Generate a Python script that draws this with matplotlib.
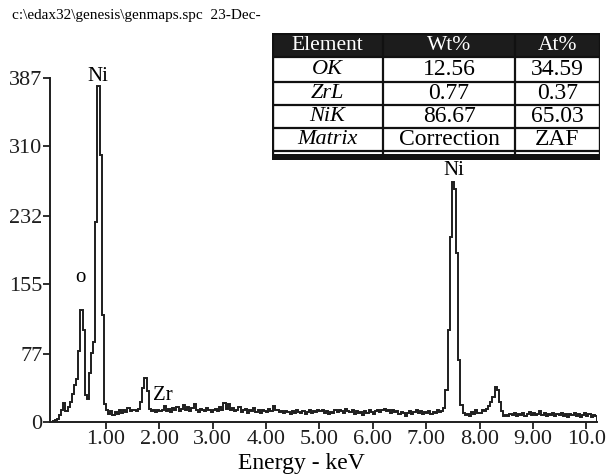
#EDS spectrum (Ni / O / Zr) with quantification table

import numpy as np
import matplotlib.pyplot as plt
from matplotlib.patches import Rectangle

plt.rcParams['font.family'] = ['Liberation Serif', 'DejaVu Serif']

# channel width 0.04 keV, first channel starts at 0.00 keV
ch_width = 0.04
counts = [
    1, 2, 3, 8, 14, 21, 12, 17, 22, 31,               # 0.00 - 0.36
    42, 48, 80, 126, 104, 30, 26, 55, 78, 90,         # 0.40 - 0.76
    225, 378, 300, 120, 20, 13, 9, 12, 8, 11,         # 0.80 - 1.16
    9, 13, 10, 14, 11, 16, 12, 13, 14, 12,            # 1.20 - 1.56
    15, 22, 38, 50, 35, 15, 12, 13, 11, 14,           # 1.60 - 1.96
    12, 13, 18, 12, 15, 11, 16, 14, 17, 12,           # 2.00 - 2.36
    15, 19, 13, 17, 12, 16, 20, 14, 11, 15,           # 2.40 - 2.76
    13, 12, 16, 14, 11, 13, 15, 12, 17, 14,           # 2.80 - 3.16
    21, 15, 20, 13, 16, 12, 14, 17, 11, 13,           # 3.20 - 3.56
    15, 10, 14, 12, 16, 11, 13, 10, 14, 12,           # 3.60 - 3.96
    11, 15, 12, 18, 13, 14, 11, 12, 10, 12,           # 4.00 - 4.36
    11, 9, 12, 10, 13, 11, 10, 12, 9, 11,             # 4.40 - 4.76
    13, 10, 12, 11, 14, 12, 13, 10, 12, 9,            # 4.80 - 5.16
    11, 10, 13, 11, 14, 12, 10, 15, 12, 11,           # 5.20 - 5.56
    13, 9, 12, 10, 11, 8, 12, 10, 13, 11,             # 5.60 - 5.96
    9, 12, 14, 11, 13, 15, 12, 14, 10, 13,            # 6.00 - 6.36
    11, 12, 9, 11, 10, 7, 10, 12, 9, 11,              # 6.40 - 6.76
    13, 10, 12, 9, 11, 10, 12, 9, 11, 10,             # 6.80 - 7.16
    13, 11, 12, 16, 36, 103, 208, 270, 262, 190,      # 7.20 - 7.56
    70, 19, 10, 8, 9, 7, 11, 9, 13, 10,               # 7.60 - 7.96
    10, 14, 12, 15, 18, 22, 28, 39, 36, 22,           # 8.00 - 8.36
    12, 7, 8, 7, 9, 8, 10, 7, 9, 8,                   # 8.40 - 8.76
    10, 7, 9, 11, 8, 10, 8, 9, 12, 8,                 # 8.80 - 9.16
    10, 7, 9, 8, 10, 7, 9, 8, 10, 7,                  # 9.20 - 9.56
    9, 6, 9, 8, 10, 7, 9, 6, 8, 10,                   # 9.60 - 9.96
    7, 9, 6, 8, 7,                                    # 10.00 - 10.16
]
edges = np.arange(len(counts) + 1) * ch_width

y_ticks = [0, 77, 155, 232, 310, 387]
x_ticks = [1, 2, 3, 4, 5, 6, 7, 8, 9, 10]
x_ticklabels = ['1.00', '2.00', '3.00', '4.00', '5.00', '6.00', '7.00', '8.00', '9.00', '10.0']

# peak labels (text, energy, counts)
peak_names = ['Ni', 'o', 'Zr', 'Ni']
peak_x = [0.85, 0.52, 2.07, 7.51]
peak_y = [389, 162, 30, 283]

# quantification table
tab_header = ['Element', 'Wt%', 'At%']
tab_elements = ['OK', 'ZrL', 'NiK', 'Matrix']
tab_wt = ['12.56', '0.77', '86.67', 'Correction']
tab_at = ['34.59', '0.37', '65.03', 'ZAF']

W, H = 607, 475
fig = plt.figure(figsize=(W / 100, H / 100), dpi=100)
ax = fig.add_axes([50 / W, 1 - 422 / H, 547 / W, 344 / H])

ax.stairs(counts, edges, color='#1e1e1e', lw=1.4)
ax.set_xlim(-0.05, 10.2)
ax.set_ylim(0, 387)

ax.set_yticks(y_ticks)
ax.set_xticks(x_ticks)
ax.set_xticklabels(x_ticklabels)
ax.tick_params(labelsize=16, length=5, width=1.3, pad=1, colors='#1e1e1e')
ax.tick_params(axis='y', pad=0.5)
ax.spines['top'].set_visible(False)
ax.spines['right'].set_visible(False)
for s in ['left', 'bottom']:
    ax.spines[s].set_linewidth(1.4)
    ax.spines[s].set_color('#1e1e1e')

for name, px, py in zip(peak_names, peak_x, peak_y):
    ax.text(px, py, name, fontsize=15, ha='center', va='center', clip_on=False)

fig.text(12 / W, 1 - 16 / H, 'c:\\edax32\\genesis\\genmaps.spc  23-Dec-',
         fontsize=11, va='center', ha='left')
fig.text(301 / W, 1 - 464 / H, 'Energy - keV', fontsize=17, ha='center', va='center')

# table drawn in its own pixel-unit axes
tab = fig.add_axes([272 / W, 1 - 160 / H, 328 / W, 127 / H])
tab.set_xlim(0, 328)
tab.set_ylim(127, 0)
tab.axis('off')

col_edges = [0, 111, 243, 328]
row_edges = [0, 24, 49, 72, 95, 118]

tab.add_patch(Rectangle((0, 0), 328, 24, facecolor='#1c1c1c', edgecolor='none'))
tab.add_patch(Rectangle((0, 121.5), 328, 5.5, facecolor='#111111', edgecolor='none'))
for y in row_edges[1:]:
    tab.plot([0, 328], [y, y], color='#111111', lw=1.6)
for x in col_edges[1:-1]:
    tab.plot([x, x], [0, 127], color='#111111', lw=1.6)
tab.add_patch(Rectangle((0, 0), 328, 127, facecolor='none', edgecolor='#111111', lw=2.4))

col_mid = [(col_edges[i] + col_edges[i + 1]) / 2 for i in range(3)]
for i, h in enumerate(tab_header):
    tab.text(col_mid[i], 12.5, h, color='white', fontsize=15.5, ha='center', va='center')
for r in range(4):
    ym = (row_edges[r + 1] + row_edges[r + 2]) / 2 + 0.5
    tab.text(col_mid[0], ym, tab_elements[r], fontsize=16, style='italic', ha='center', va='center')
    tab.text(col_mid[1], ym, tab_wt[r], fontsize=17, ha='center', va='center')
    tab.text(col_mid[2], ym, tab_at[r], fontsize=17, ha='center', va='center')

fig.savefig('out.png', dpi=100)
